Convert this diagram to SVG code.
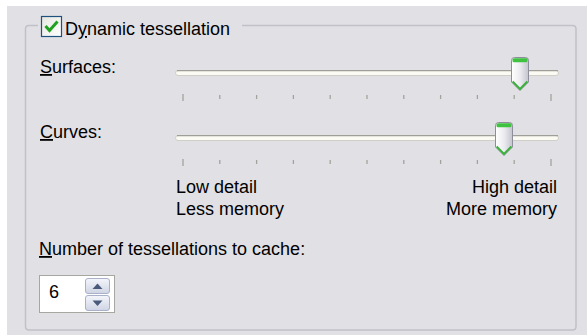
<svg xmlns="http://www.w3.org/2000/svg" width="587" height="335" viewBox="0 0 587 335">
<style>
  text { font-family: "Liberation Sans", Arial, sans-serif; font-size: 18px; fill: #000; }
  .u { text-decoration: underline; }
  .track-bg { fill: #fbfbf3; stroke: #cfcfc7; stroke-width: 1; }
  .track-top { stroke: #9f9f97; stroke-width: 1.2; }
  .tick { stroke: #a3a39b; stroke-width: 1.3; }
  .spinbtn { fill: url(#spinGrad); stroke: #a9b1c8; stroke-width: 1; }
  .arrow { fill: #4a5a7a; }
</style>
<defs>
  <linearGradient id="thumbGrad" x1="0" y1="0" x2="1" y2="0">
    <stop offset="0" stop-color="#ffffff"/>
    <stop offset="0.5" stop-color="#ececf0"/>
    <stop offset="1" stop-color="#c4c4ce"/>
  </linearGradient>
  <linearGradient id="spinGrad" x1="0" y1="0" x2="0" y2="1">
    <stop offset="0" stop-color="#f4f6fb"/>
    <stop offset="1" stop-color="#cfd4e4"/>
  </linearGradient>
  <linearGradient id="cbGrad" x1="0" y1="0" x2="1" y2="1">
    <stop offset="0" stop-color="#e6e6e0"/>
    <stop offset="1" stop-color="#ffffff"/>
  </linearGradient>
  <g id="thumb">
    <path d="M0.5,3.5 Q0.5,0.5 3.5,0.5 H14.5 Q17.5,0.5 17.5,3.5 V25 L9,33.5 L0.5,25 Z" fill="url(#thumbGrad)" stroke="#8e8e9a" stroke-width="1"/>
    <rect x="1.5" y="1.2" width="15" height="4" rx="1.5" fill="#3fc23f"/>
    <polyline points="1.6,24.5 9,32 16.4,24.5" fill="none" stroke="#3cb03c" stroke-width="2"/>
  </g>
</defs>

<rect x="0" y="0" width="587" height="335" fill="#ffffff"/>
<rect x="7" y="6" width="580" height="329" fill="#e1e0e5"/>

<g id="groupbox">
  <path d="M38,25.5 H29 Q25.5,25.5 25.5,29 V326.5 Q25.5,330 29,330 H572.5 Q576,330 576,326.5 V29 Q576,25.5 572.5,25.5 H242" fill="none" stroke="#c2c0c8" stroke-width="1.5"/>
</g>

<g id="checkbox-dynamic">
  <rect x="41.5" y="16.5" width="20" height="20" fill="url(#cbGrad)" stroke="#1c5180" stroke-width="1.2"/>
  <path d="M45.5,26 L49.5,30.5 L57.5,21.5" fill="none" stroke="#21a121" stroke-width="3"/>
  <text x="65" y="35">D<tspan class="u">y</tspan>namic tessellation</text>
</g>

<g id="surfaces">
  <text x="40" y="73"><tspan class="u">S</tspan>urfaces:</text>
  <rect class="track-bg" x="175.5" y="70.5" width="383" height="5" rx="2.5"/>
  <line class="track-top" x1="177" y1="70.6" x2="558" y2="70.6"/>
  <g class="tick">
    <line x1="183" y1="94" x2="183" y2="101"/>
    <line x1="219.8" y1="95" x2="219.8" y2="99"/>
    <line x1="256.6" y1="95" x2="256.6" y2="99"/>
    <line x1="293.4" y1="95" x2="293.4" y2="99"/>
    <line x1="330.2" y1="95" x2="330.2" y2="99"/>
    <line x1="367" y1="95" x2="367" y2="99"/>
    <line x1="403.8" y1="95" x2="403.8" y2="99"/>
    <line x1="440.6" y1="95" x2="440.6" y2="99"/>
    <line x1="477.4" y1="95" x2="477.4" y2="99"/>
    <line x1="514.2" y1="95" x2="514.2" y2="99"/>
    <line x1="551" y1="94" x2="551" y2="101"/>
  </g>
  <use href="#thumb" x="511" y="57"/>
</g>

<g id="curves">
  <text x="40" y="138"><tspan class="u">C</tspan>urves:</text>
  <rect class="track-bg" x="175.5" y="135.5" width="383" height="5" rx="2.5"/>
  <line class="track-top" x1="177" y1="135.6" x2="558" y2="135.6"/>
  <g class="tick">
    <line x1="183" y1="159" x2="183" y2="166"/>
    <line x1="219.8" y1="160" x2="219.8" y2="164"/>
    <line x1="256.6" y1="160" x2="256.6" y2="164"/>
    <line x1="293.4" y1="160" x2="293.4" y2="164"/>
    <line x1="330.2" y1="160" x2="330.2" y2="164"/>
    <line x1="367" y1="160" x2="367" y2="164"/>
    <line x1="403.8" y1="160" x2="403.8" y2="164"/>
    <line x1="440.6" y1="160" x2="440.6" y2="164"/>
    <line x1="477.4" y1="160" x2="477.4" y2="164"/>
    <line x1="514.2" y1="160" x2="514.2" y2="164"/>
    <line x1="551" y1="159" x2="551" y2="166"/>
  </g>
  <use href="#thumb" x="495" y="122"/>
</g>

<g id="scale-labels">
  <text x="176" y="193">Low detail</text>
  <text x="176" y="215">Less memory</text>
  <text x="557" y="193" text-anchor="end">High detail</text>
  <text x="557" y="215" text-anchor="end">More memory</text>
</g>

<g id="cache-count">
  <text x="39" y="255"><tspan class="u">N</tspan>umber of tessellations to cache:</text>
  <rect x="39.5" y="275.5" width="75" height="37" fill="#ffffff" stroke="#a7a7a2" stroke-width="1"/>
  <text x="49" y="298">6</text>
  <rect class="spinbtn" x="85.5" y="278.5" width="24" height="15" rx="2.5"/>
  <polygon class="arrow" points="92.5,289 97.5,283.5 102.5,289"/>
  <rect class="spinbtn" x="85.5" y="295.5" width="24" height="15" rx="2.5"/>
  <polygon class="arrow" points="92.5,300.5 97.5,306 102.5,300.5"/>
</g>
</svg>
